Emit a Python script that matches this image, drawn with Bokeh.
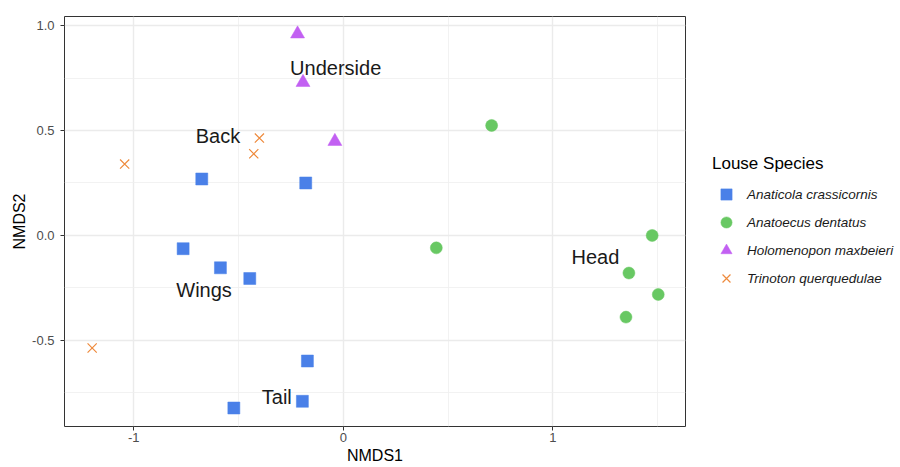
from bokeh.plotting import figure
from bokeh.models import (ColumnDataSource, FixedTicker, PrintfTickFormatter,
                          Legend, LegendItem, LabelSet)
from bokeh.core.properties import value
from bokeh.embed import file_html
from bokeh.resources import INLINE

# ---- data ----
species = ["Anaticola crassicornis", "Anatoecus dentatus",
           "Holomenopon maxbeieri", "Trinoton querquedulae"]

anaticola_x = [-0.675, -0.179, -0.764, -0.586, -0.446, -0.171, -0.195, -0.522]
anaticola_y = [0.269, 0.250, -0.063, -0.154, -0.205, -0.598, -0.790, -0.822]

anatoecus_x = [0.708, 0.444, 1.474, 1.363, 1.503, 1.349]
anatoecus_y = [0.524, -0.059, 0.000, -0.179, -0.281, -0.389]

holomenopon_x = [-0.218, -0.192, -0.040]
holomenopon_y = [0.960, 0.729, 0.448]

trinoton_x = [-1.043, -0.400, -0.427, -1.198]
trinoton_y = [0.340, 0.464, 0.389, -0.536]

region_labels = ["Underside", "Back", "Wings", "Tail", "Head"]
region_x = [-0.036, -0.598, -0.664, -0.317, 1.203]
region_y = [0.797, 0.475, -0.262, -0.771, -0.103]

x_ticks = [-1, 0, 1]
x_minor = [-0.5, 0.5, 1.5]
y_ticks = [-0.5, 0.0, 0.5, 1.0]
y_minor = [-0.75, -0.25, 0.25, 0.75]

colors = ["#4a80e8", "#68c863", "#c260f2", "#ee8a3c"]
markers = ["square", "circle", "triangle", "x"]

FONT = "Liberation Sans"

p = figure(frame_width=621, frame_height=410,
           x_range=(-1.33, 1.633), y_range=(-0.91, 1.043),
           output_backend="svg", toolbar_location=None,
           min_border_left=64, min_border_top=16, min_border_bottom=41,
           min_border_right=215,
           background_fill_color="white", border_fill_color="white")

p.outline_line_color = "#333333"
p.outline_line_width = 1

# axes
for ax in (p.xaxis[0], p.yaxis[0]):
    ax.axis_line_color = None
    ax.major_tick_line_color = "#333333"
    ax.major_tick_out = 4
    ax.major_tick_in = 0
    ax.minor_tick_line_color = None
    ax.major_label_text_font = FONT
    ax.major_label_text_font_size = "13px"
    ax.major_label_text_color = "#4d4d4d"
    ax.axis_label_text_font = FONT
    ax.axis_label_text_font_size = "16px"
    ax.axis_label_text_font_style = "normal"
    ax.axis_label_text_color = "#000000"

p.xaxis.major_label_standoff = 2
p.xaxis.axis_label_standoff = 2
p.yaxis.major_label_standoff = 6
p.yaxis.axis_label_standoff = 1

p.xaxis.ticker = FixedTicker(ticks=x_ticks, minor_ticks=x_minor)
p.yaxis.ticker = FixedTicker(ticks=y_ticks, minor_ticks=y_minor)
p.xaxis.formatter = PrintfTickFormatter(format="%d")
p.yaxis.formatter = PrintfTickFormatter(format="%.1f")
p.xaxis.axis_label = "NMDS1"
p.yaxis.axis_label = "NMDS2"

for g in (p.xgrid[0], p.ygrid[0]):
    g.grid_line_color = "#ebebeb"
    g.grid_line_width = 1.4
    g.minor_grid_line_color = "#efefef"
    g.minor_grid_line_width = 0.8

series = [(anaticola_x, anaticola_y), (anatoecus_x, anatoecus_y),
          (holomenopon_x, holomenopon_y), (trinoton_x, trinoton_y)]
sizes = [12, 12, 14, 13]

items = []
for (xs, ys), name, c, m, s in zip(series, species, colors, markers, sizes):
    src = ColumnDataSource(dict(x=xs, y=ys))
    if m == "x":
        r = p.scatter("x", "y", source=src, marker=m, size=s,
                      line_color=c, line_width=1.2)
    else:
        r = p.scatter("x", "y", source=src, marker=m, size=s,
                      fill_color=c, line_color=c, line_width=0.5)
    items.append(LegendItem(label=name, renderers=[r]))

lab_src = ColumnDataSource(dict(x=region_x, y=region_y, t=region_labels))
p.add_layout(LabelSet(x="x", y="y", text="t", source=lab_src,
                      text_font=value(FONT), text_font_size="20px",
                      text_color="#1a1a1a", text_align="center",
                      text_baseline="middle"))

legend = Legend(items=items, location=(27, 134), orientation="vertical")
legend.title = "Louse Species"
legend.title_text_font = FONT
legend.title_text_font_size = "17px"
legend.title_text_font_style = "normal"
legend.title_text_color = "#000000"
legend.title_standoff = 6
legend.label_text_font = FONT
legend.label_text_font_size = "13.5px"
legend.label_text_font_style = "italic"
legend.label_text_color = "#1a1a1a"
legend.glyph_width = 28
legend.glyph_height = 28
legend.label_standoff = 7
legend.spacing = 0
legend.padding = 6
legend.margin = 0
legend.border_line_color = None
legend.background_fill_alpha = 0
p.add_layout(legend, "right")

open("out.html", "w").write(file_html(p, INLINE))
